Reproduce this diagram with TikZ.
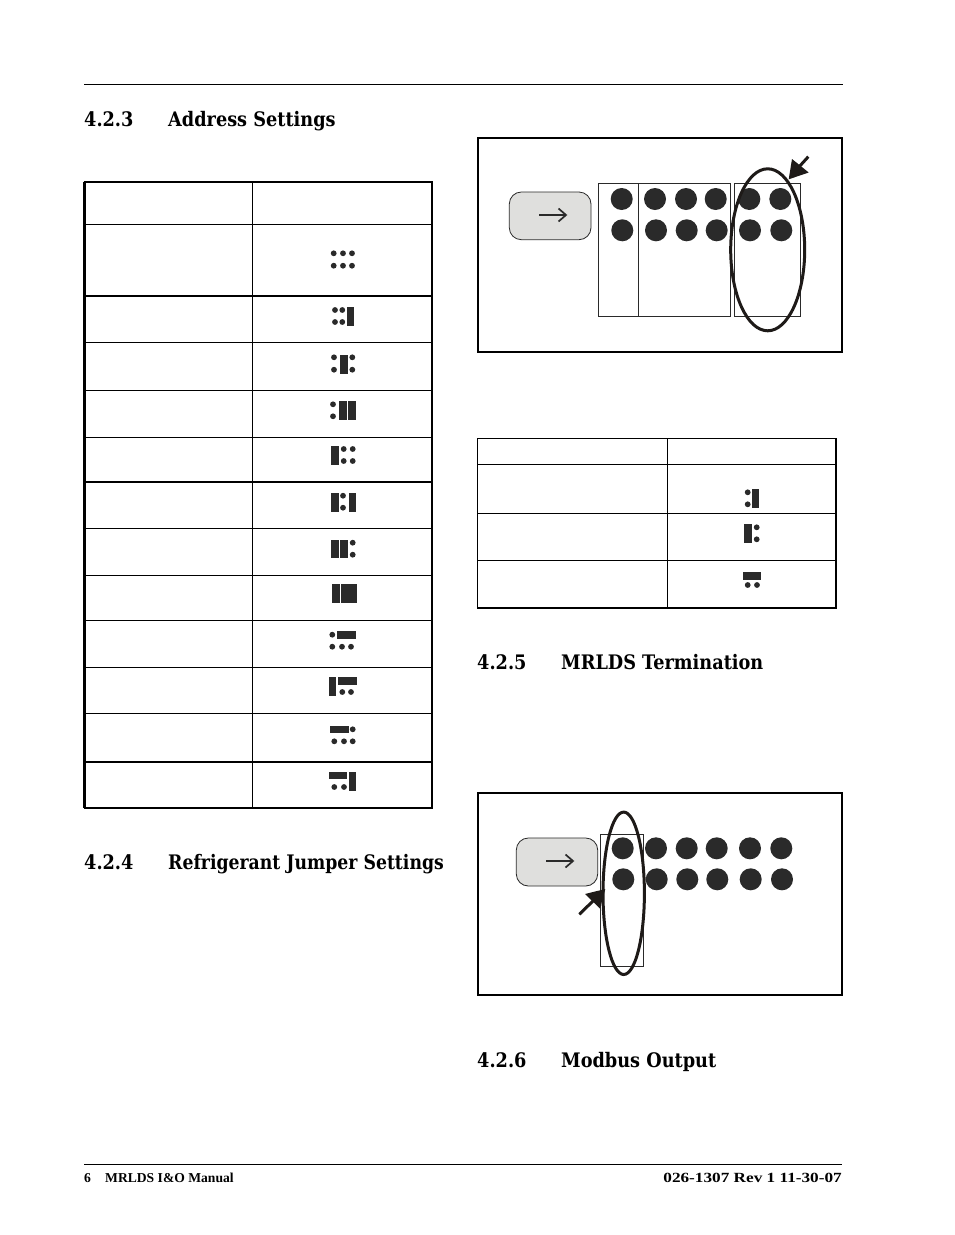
\documentclass[tikz,border=0pt]{standalone}
\usepackage{fontspec}
\newfontfamily\headf[FakeStretch=0.885]{DejaVu Serif}
\newfontfamily\headn[FakeStretch=0.863]{DejaVu Serif}
\newfontfamily\footf{Liberation Serif}
\newfontfamily\footw[FakeStretch=1.23]{Liberation Serif}
\definecolor{pinc}{HTML}{2A2A2A}
\definecolor{arrc}{HTML}{1E1A18}
\definecolor{keyc}{HTML}{DFDFDD}
\tikzset{
  head/.style={anchor=base west,inner sep=0pt,font=\headf\bfseries\fontsize{20}{24}\selectfont,text=black},
  headnarrow/.style={anchor=base west,inner sep=0pt,font=\headn\bfseries\fontsize{20}{24}\selectfont,text=black},
  foot/.style={inner sep=0pt,font=\footf\bfseries\fontsize{13.6}{15}\selectfont,text=black},
  footwide/.style={inner sep=0pt,font=\footw\bfseries\fontsize{14}{15}\selectfont,text=black},
  rulethin/.style={line width=1pt,black},
  rulethick/.style={line width=2.2pt,black},
  frame/.style={line width=2pt,black},
  pinbig/.style={fill=pinc},
  thinbox/.style={draw=pinc,line width=0.8pt},
  key/.style={draw=pinc,line width=0.8pt,fill=keyc,rounded corners=12pt},
  ring/.style={draw=arrc,line width=3pt},
}
\newcommand\pn[2]{\fill[pinc] (#1,#2) circle[radius=2.9pt];}
\newcommand\bk[4]{\fill[pinc] (#1,#2) rectangle (#3,#4);}
\newcommand\pinrows[4]{%
  \foreach \px/\qx in {#1}{\fill[pinbig] (\px,#3) circle[radius=11pt]; \fill[pinbig] (\qx,#4) circle[radius=11pt];}}
\begin{document}
\begin{tikzpicture}[x=1pt,y=-1pt]
\useasboundingbox (0,0) rectangle (954,1235);
\fill[white] (0,0) rectangle (954,1235);
% page rules
\draw[rulethin] (84,84.5) -- (843,84.5);
\draw[rulethin] (84,1164.5) -- (842,1164.5);
% headings
\node[head] (h3n) at (84,126) {4.2.3};
\node[head] (h3t) at (168,126) {Address Settings};
\node[head] (h4n) at (84,869) {4.2.4};
\node[headnarrow] (h4t) at (168,869) {Refrigerant Jumper Settings};
\node[head] (h5n) at (477,669) {4.2.5};
\node[head] (h5t) at (561,669) {MRLDS Termination};
\node[head] (h6n) at (477,1067) {4.2.6};
\node[head] (h6t) at (561,1067) {Modbus Output};
% footer
\node[foot,anchor=base west] (fl) at (84,1182) {6};
\node[foot,anchor=base west] (fm) at (105,1182) {MRLDS I\&O Manual};
\node[footwide,anchor=base east] (fr) at (842,1182) {026-1307 Rev 1 11-30-07};
% table 1
\foreach \yy in {224,342.5,390,437,528,575,620,667,713}{\draw[rulethin] (84,\yy) -- (432,\yy);}
\foreach \yy in {182,296,482,762,808}{\draw[rulethick] (83.5,\yy) -- (433,\yy);}
\draw[rulethick] (84.5,182) -- (84.5,808);
\draw[rulethin] (252.5,182) -- (252.5,808);
\draw[rulethick] (432,182) -- (432,808);
% table 1 jumper glyphs
\pn{333.7}{253.3}\pn{343}{253.3}\pn{352}{253.3}\pn{333.7}{265.7}\pn{343}{265.7}\pn{352}{265.7}
\pn{335}{310}\pn{342.3}{310}\pn{335}{322}\pn{342.3}{322}\bk{347}{307}{354}{326}
\pn{334}{357.3}\pn{352.3}{357.3}\pn{334}{369.7}\pn{352.3}{369.7}\bk{340}{355}{348}{374}
\pn{333}{404.3}\pn{333}{416.3}\bk{339}{401}{346.7}{420}\bk{348}{401}{355.7}{420}
\bk{331}{446}{339}{465}\pn{343.7}{449}\pn{352.7}{449}\pn{343.7}{461}\pn{352.7}{461}
\bk{331}{493}{339}{512}\pn{343}{495.7}\pn{343}{507.7}\bk{349.3}{493}{356}{512}
\bk{331}{540}{339}{558}\bk{340}{540}{348}{558}\pn{352.7}{542.7}\pn{352.7}{554.7}
\bk{332.3}{584}{340}{603}\bk{341.3}{584}{349}{603}\bk{349.3}{584}{357}{603}
\pn{332.3}{634.7}\bk{337.3}{631.3}{355.7}{639}\pn{332.3}{646.7}\pn{342}{646.7}\pn{351}{646.7}
\bk{329}{676.7}{336.3}{695.7}\bk{338.3}{677}{357}{684.7}\pn{342.3}{692}\pn{351}{692}
\bk{330.3}{725.7}{349}{733.3}\pn{352.7}{729.3}\pn{334.3}{741.3}\pn{344}{741.3}\pn{352.7}{741.3}
\bk{329}{771.7}{347.3}{779.3}\bk{349.3}{771.7}{356.3}{790.7}\pn{334.3}{787}\pn{344}{787}
% table 2
\foreach \yy in {438.5,464.5,513.5,560.5}{\draw[rulethin] (477,\yy) -- (836,\yy);}
\draw[rulethick] (477,608) -- (837,608);
\draw[line width=1.6pt] (477.5,438) -- (477.5,608);
\draw[rulethin] (667.5,438) -- (667.5,608);
\draw[rulethick] (836,438) -- (836,608);
\pn{747.7}{492.3}\pn{747.7}{504.3}\bk{752.3}{489}{759.3}{508}
\bk{744.3}{524}{751.7}{543}\pn{756.7}{527.3}\pn{756.7}{539.3}
\bk{742.7}{572}{761.3}{579.7}\pn{747.7}{585}\pn{757}{585}
% figure 1
\draw[frame] (477.5,137.5) rectangle (842,352);
\draw[key] (509.3,192) rectangle (591,239.7);
\coordinate (k1a) at (539.3,215);
\coordinate (k1b) at (566,215);
\draw[pinc,line width=1.5pt] (k1a) -- (k1b);
\draw[pinc,line width=1.7pt] (558.5,208.5) -- (566,215) -- (558.5,221.5);
\pinrows{621.7/622.3,655/656,686/686.7,715.7/716.7,749.3/750,780.3/781.3}{}{199}{230.3}
\draw[thinbox] (598.3,183.3) rectangle (730.3,316.3);
\draw[thinbox] (638.3,183.3) -- (638.3,316.3);
\draw[thinbox] (734.3,183.3) rectangle (800.3,316.3);
\draw[ring] (767.7,249.8) ellipse[x radius=37pt,y radius=81pt];
\draw[arrc,line width=3pt] (808.3,156.7) -- (798,168);
\fill[arrc] (788.7,179.3) -- (792,159) -- (808.7,172.5) -- cycle;
% figure 2
\draw[frame] (477.5,792.5) rectangle (842,995);
\draw[key] (516.3,838) rectangle (597.7,886);
\coordinate (k2a) at (546.3,861);
\coordinate (k2b) at (573,861);
\draw[pinc,line width=1.5pt] (k2a) -- (k2b);
\draw[pinc,line width=1.7pt] (565.5,854.5) -- (573,861) -- (565.5,867.5);
\pinrows{622.7/623.3,656/656.7,686.7/687.3,716.7/717.3,750/750.7,781.3/782}{}{848.3}{879.3}
\draw[thinbox] (600.3,834.3) rectangle (643.3,966.3);
\draw[ring] (623.7,893.3) ellipse[x radius=20.7pt,y radius=81.2pt];
\draw[arrc,line width=3pt] (579.3,914.3) -- (593,901);
\fill[arrc] (605.3,889) -- (585,894) -- (600,908.5) -- cycle;
\end{tikzpicture}
\end{document}
